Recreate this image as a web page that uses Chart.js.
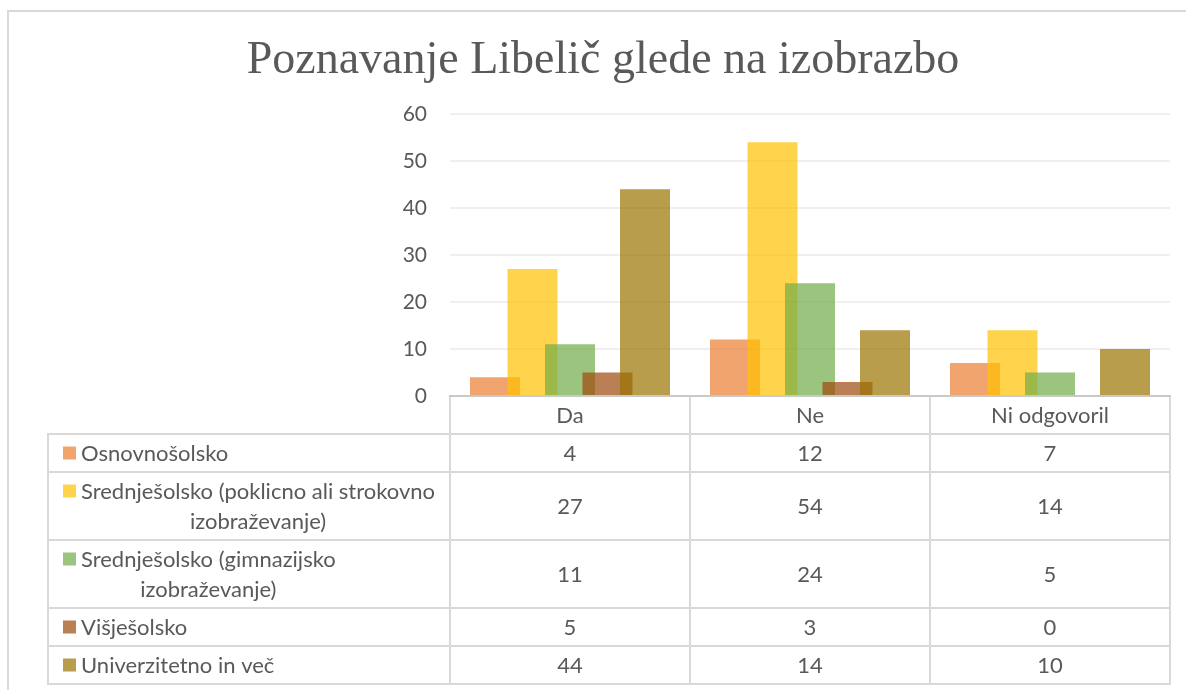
<!DOCTYPE html>
<html><head><meta charset="utf-8">
<script src="https://cdn.jsdelivr.net/npm/chart.js@4.4.0/dist/chart.umd.min.js"></script>
<style>html,body{margin:0;padding:0;background:#fff;overflow:hidden}#wrap{position:relative;width:1186px;height:690px}</style>
</head><body><div id="wrap"><canvas id="c" width="1186" height="690"></canvas></div>
<script>
const title = "Poznavanje Libelič glede na izobrazbo";
const categories = ["Da", "Ne", "Ni odgovoril"];
const seriesNames = ["Osnovnošolsko", "Srednješolsko (poklicno ali strokovno izobraževanje)", "Srednješolsko (gimnazijsko izobraževanje)", "Višješolsko", "Univerzitetno in več"];
const seriesLabelLines = [["Osnovnošolsko"], ["Srednješolsko (poklicno ali strokovno", "izobraževanje)"], ["Srednješolsko (gimnazijsko", "izobraževanje)"], ["Višješolsko"], ["Univerzitetno in več"]];
const osnovnosolsko = [4, 12, 7];
const srednjePoklicno = [27, 54, 14];
const srednjeGimnazijsko = [11, 24, 5];
const visjesolsko = [5, 3, 0];
const univerzitetno = [44, 14, 10];
const yTicks = [0, 10, 20, 30, 40, 50, 60];

const seriesData = [osnovnosolsko, srednjePoklicno, srednjeGimnazijsko, visjesolsko, univerzitetno];
const seriesColors = ["rgba(237,125,49,0.7)", "rgba(255,192,0,0.7)", "rgba(112,173,71,0.7)", "rgba(158,72,14,0.7)", "rgba(153,115,0,0.7)"];
const TXT = '#595959';
const LINE = '#D9D9D9';
const FONT = '22px Lato';

const tablePlugin = {
  id: 'tbl',
  beforeDraw(chart) {
    const ctx = chart.ctx;
    ctx.save();
    ctx.fillStyle = '#fff';
    ctx.fillRect(0, 0, chart.width, chart.height);
    ctx.fillStyle = LINE;
    ctx.fillRect(7, 10, chart.width - 7, 2);
    ctx.fillRect(7, 10, 2, chart.height - 10);
    ctx.fillStyle = TXT;
    ctx.font = '46px "Liberation Serif"';
    ctx.textAlign = 'center';
    ctx.textBaseline = 'alphabetic';
    ctx.fillText(title, 603, 73);
    ctx.restore();
  },
  beforeDatasetsDraw(chart) {
    const ctx = chart.ctx, a = chart.chartArea;
    ctx.save();
    ctx.beginPath();
    ctx.rect(a.left, a.top - 2, a.right - a.left, a.bottom - a.top + 2);
    ctx.clip();
    for (let i = 0; i < seriesData.length; i++) {
      const meta = chart.getDatasetMeta(i);
      if (meta.visible !== false) meta.controller.draw();
    }
    ctx.restore();
    return false;
  },
  afterDraw(chart) {
    const { ctx, scales: { x, y } } = chart;
    const step = x.getPixelForValue(1) - x.getPixelForValue(0);
    const edges = categories.map((c, i) => x.getPixelForValue(i) - step / 2);
    edges.push(x.getPixelForValue(categories.length - 1) + step / 2);
    const y0 = Math.round(y.getPixelForValue(0));
    const legendLeft = 48;
    const rowsTop = 434;
    const tops = [rowsTop];
    seriesLabelLines.forEach((l, i) => tops.push(tops[i] + 8 + 30 * l.length));
    const bottom = tops[tops.length - 1];
    ctx.save();
    ctx.fillStyle = LINE;
    tops.forEach(t => ctx.fillRect(legendLeft - 1, t - 1, edges[edges.length - 1] - legendLeft + 2, 2));
    edges.forEach(e => ctx.fillRect(Math.round(e) - 1, y0, 2, bottom - y0 + 1));
    ctx.fillRect(legendLeft - 1, rowsTop - 1, 2, bottom - rowsTop + 1);
    ctx.fillStyle = '#C9C9C9';
    ctx.fillRect(edges[0] - 1, y0 - 1, edges[edges.length - 1] - edges[0] + 2, 2);

    ctx.font = FONT;
    ctx.fillStyle = TXT;
    ctx.textAlign = 'center';
    ctx.textBaseline = 'middle';
    categories.forEach((c, i) => ctx.fillText(c, x.getPixelForValue(i), (y0 + rowsTop) / 2 + 1));
    seriesLabelLines.forEach((lines, r) => {
      const t = tops[r], h = tops[r + 1] - t;
      ctx.fillStyle = seriesColors[r];
      ctx.fillRect(63, t + 19 - 6.5, 13, 13);
      ctx.fillStyle = TXT;
      const maxW = Math.max(...lines.map(l => ctx.measureText(l).width));
      ctx.textAlign = 'center';
      lines.forEach((l, k) => ctx.fillText(l, 81 + maxW / 2, t + 19 + 30 * k + 1));
      seriesData[r].forEach((v, i) => ctx.fillText(String(v), x.getPixelForValue(i), t + h / 2 + 1));
    });
    ctx.restore();
  }
};

new Chart(document.getElementById('c'), {
  type: 'bar',
  data: {
    labels: categories,
    datasets: seriesData.map((d, i) => ({
      label: seriesNames[i], data: d, backgroundColor: seriesColors[i],
      borderWidth: 0, categoryPercentage: 0.78125, barPercentage: 4 / 3
    }))
  },
  options: {
    responsive: false, animation: false, devicePixelRatio: 1,
    layout: { padding: { left: 0, right: 16, top: 114, bottom: 0 } },
    plugins: { legend: { display: false }, title: { display: false }, tooltip: { enabled: false } },
    scales: {
      x: {
        grid: { display: false }, border: { display: false }, ticks: { display: false },
        afterFit(s) { s.height = 690 - 396; }
      },
      y: {
        min: 0, max: 60,
        afterBuildTicks(s) { s.ticks = yTicks.map(v => ({ value: v })); },
        grid: { color: '#EFEFEF', lineWidth: 2, drawTicks: false },
        border: { display: false },
        ticks: { padding: 23, color: TXT, font: { family: 'Lato', size: 21 } },
        afterFit(s) { s.width = 450; }
      }
    }
  },
  plugins: [tablePlugin]
});
</script>
</body></html>
